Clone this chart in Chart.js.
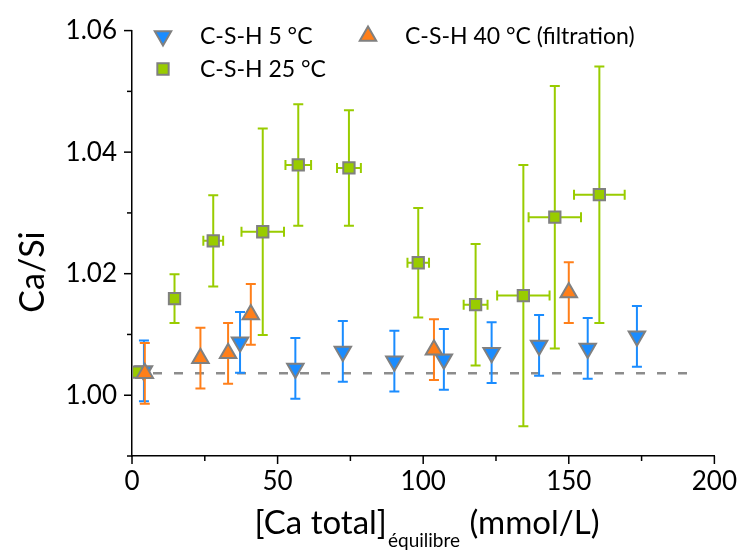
<!DOCTYPE html>
<html>
<head>
<meta charset="utf-8">
<script src="https://cdn.jsdelivr.net/npm/chart.js@4"></script>
<style>
  html, body { margin: 0; padding: 0; background: #fff; }
</style>
</head>
<body>
<canvas id="myChart" width="747" height="550"></canvas>
<script>
const seriesLabels = ['C-S-H 5 °C', 'C-S-H 25 °C', 'C-S-H 40 °C (filtration)'];

// C-S-H 5 °C
const x5 = [4.1, 37.1, 56.1, 72.4, 90.1, 107.1, 123.5, 139.8, 156.5, 173.4];
const y5 = [1.0040, 1.0087, 1.0044, 1.0072, 1.0056, 1.0059, 1.0070, 1.0082, 1.0077, 1.0097];
const yErr5 = [0.005, 0.005, 0.005, 0.005, 0.005, 0.005, 0.005, 0.005, 0.005, 0.005];
const xErr5 = [0, 0, 0, 0, 0, 0, 0, 0, 0, 0];

// C-S-H 25 °C
const x25 = [2.0, 14.6, 27.9, 44.9, 57.1, 74.5, 98.3, 118.0, 134.4, 145.2, 160.5];
const y25 = [1.0038, 1.0159, 1.0254, 1.0269, 1.0379, 1.0374, 1.0218, 1.0149, 1.0164, 1.0293, 1.0330];
const yErr25 = [0, 0.004, 0.0075, 0.017, 0.010, 0.0095, 0.009, 0.010, 0.0215, 0.0216, 0.0211];
const xErr25 = [0, 0, 3.4, 7.3, 4.4, 4.1, 3.7, 4.1, 9.0, 9.0, 8.7];

// C-S-H 40 °C (filtration)
const x40 = [4.4, 23.5, 33.0, 40.8, 103.7, 150.0];
const y40 = [1.0036, 1.0061, 1.0069, 1.0133, 1.0075, 1.0169];
const yErr40 = [0.005, 0.005, 0.005, 0.005, 0.005, 0.005];
const xErr40 = [0, 0, 0, 0, 0, 0];

// dashed reference line
const refX = [0, 194];
const refY = [1.0036, 1.0036];

const xTicks = [0, 50, 100, 150, 200];
const yTicks = [1.00, 1.02, 1.04, 1.06];

const FONT = 'Lato';
const blue = '#1a8cff';
const orange = '#ff7f1a';
const green = '#99cc00';
const edge = '#808080';

function pts(xs, ys) {
  return xs.map((x, i) => ({ x: x, y: ys[i] }));
}

const data = {
  datasets: [
    {
      label: seriesLabels[0],
      data: pts(x5, y5),
      errY: yErr5, errX: xErr5, errColor: blue,
      pointStyle: 'triangle', rotation: 180, pointRadius: 9.5,
      backgroundColor: blue, borderColor: edge, borderWidth: 2,
      order: 3
    },
    {
      label: seriesLabels[1],
      data: pts(x25, y25),
      errY: yErr25, errX: xErr25, errColor: green,
      pointStyle: 'rect', pointRadius: 8,
      backgroundColor: green, borderColor: edge, borderWidth: 2,
      order: 2
    },
    {
      label: seriesLabels[2],
      data: pts(x40, y40),
      errY: yErr40, errX: xErr40, errColor: orange,
      pointStyle: 'triangle', pointRadius: 9.5,
      backgroundColor: orange, borderColor: edge, borderWidth: 2,
      order: 1
    },
    {
      label: 'ref',
      type: 'line',
      data: pts(refX, refY),
      showLine: true, pointRadius: 0,
      borderColor: '#8c8c8c', borderWidth: 2.5, borderDash: [9, 12],
      order: 10
    }
  ]
};

const errorBars = {
  id: 'errorBars',
  beforeDatasetDraw(chart, args) {
    const ds = chart.data.datasets[args.index];
    if (!ds.errY) return;
    const ctx = chart.ctx;
    const xs = chart.scales.x, ys = chart.scales.y;
    ctx.save();
    ctx.strokeStyle = ds.errColor;
    ctx.lineWidth = 2;
    ds.data.forEach((p, j) => {
      const px = xs.getPixelForValue(p.x);
      const py = ys.getPixelForValue(p.y);
      const ey = ds.errY[j], ex = ds.errX[j];
      ctx.beginPath();
      if (ey > 0) {
        const t = ys.getPixelForValue(p.y + ey);
        const b = ys.getPixelForValue(p.y - ey);
        ctx.moveTo(px, t); ctx.lineTo(px, b);
        ctx.moveTo(px - 5, t); ctx.lineTo(px + 5, t);
        ctx.moveTo(px - 5, b); ctx.lineTo(px + 5, b);
      }
      if (ex > 0) {
        const l = xs.getPixelForValue(p.x - ex);
        const r = xs.getPixelForValue(p.x + ex);
        ctx.moveTo(l, py); ctx.lineTo(r, py);
        ctx.moveTo(l, py - 5); ctx.lineTo(l, py + 5);
        ctx.moveTo(r, py - 5); ctx.lineTo(r, py + 5);
      }
      ctx.stroke();
    });
    ctx.restore();
  }
};

const extras = {
  id: 'extras',
  afterDraw(chart) {
    const ctx = chart.ctx;
    ctx.save();
    // tick marks, long for labelled, short for minor
    ctx.strokeStyle = '#000';
    ctx.lineWidth = 1.5;
    const sx = chart.scales.x, sy = chart.scales.y;
    sx.ticks.forEach((t, i) => {
      const p = sx.getPixelForTick(i);
      const len = xTicks.includes(t.value) ? 8 : 5;
      ctx.beginPath(); ctx.moveTo(p, sy.bottom); ctx.lineTo(p, sy.bottom + len); ctx.stroke();
    });
    sy.ticks.forEach((t, i) => {
      const p = sy.getPixelForTick(i);
      const major = yTicks.some(v => Math.abs(v - t.value) < 1e-6);
      const len = major ? 8 : 5;
      ctx.beginPath(); ctx.moveTo(sx.left, p); ctx.lineTo(sx.left - len, p); ctx.stroke();
    });

    // axis titles
    ctx.fillStyle = '#000';
    ctx.textBaseline = 'alphabetic';
    ctx.save();
    ctx.translate(44, 272);
    ctx.rotate(-Math.PI / 2);
    ctx.textAlign = 'center';
    ctx.font = '34px ' + FONT;
    ctx.fillText('Ca/Si', 0, 0);
    ctx.restore();

    const part1 = '[Ca total]', sub = 'équilibre', part2 = ' (mmol/L)';
    ctx.font = '33px ' + FONT;
    const w1 = ctx.measureText(part1).width;
    const w3 = ctx.measureText(part2).width;
    ctx.font = '19px ' + FONT;
    const w2 = ctx.measureText(sub).width;
    let x0 = 426 - (w1 + w2 + w3) / 2;
    ctx.textAlign = 'left';
    ctx.font = '33px ' + FONT;
    ctx.fillText(part1, x0, 534);
    ctx.font = '19px ' + FONT;
    ctx.fillText(sub, x0 + w1 + 1, 547);
    ctx.font = '33px ' + FONT;
    ctx.fillText(part2, x0 + w1 + w2 + 2, 534);

    // legend
    const spots = [[163, 36], [163, 69], [368, 36]];
    ctx.font = '23px ' + FONT;
    ctx.textBaseline = 'middle';
    [0, 1, 2].forEach(i => {
      const ds = chart.data.datasets[i];
      const [lx, ly] = spots[i];
      ctx.fillStyle = ds.backgroundColor;
      ctx.strokeStyle = ds.borderColor;
      ctx.lineWidth = ds.borderWidth;
      Chart.helpers.drawPoint(ctx, {
        pointStyle: ds.pointStyle, radius: ds.pointRadius,
        rotation: ds.rotation || 0, borderWidth: ds.borderWidth
      }, lx, ly);
      ctx.fillStyle = '#000';
      ctx.fillText(ds.label, lx + 37, ly + 1);
    });
    ctx.restore();
  }
};

const config = {
  type: 'scatter',
  data: data,
  options: {
    responsive: false,
    animation: false,
    layout: { padding: { top: 29, right: 27, left: 0, bottom: 0 } },
    plugins: {
      legend: { display: false },
      tooltip: { enabled: false }
    },
    scales: {
      x: {
        type: 'linear',
        min: 0, max: 200,
        afterFit: s => { s.height = 94; },
        border: { display: true, color: '#000', width: 1.5 },
        grid: { display: true, drawOnChartArea: false, drawTicks: false },
        ticks: {
          stepSize: 25,
          padding: 10,
          color: '#000',
          font: { family: FONT, size: 26 },
          maxRotation: 0,
          autoSkip: false,
          callback: v => xTicks.includes(v) ? String(v) : ''
        }
      },
      y: {
        type: 'linear',
        min: 0.99, max: 1.06,
        afterFit: s => { s.width = 132; },
        border: { display: true, color: '#000', width: 1.5 },
        grid: { display: true, drawOnChartArea: false, drawTicks: false },
        ticks: {
          stepSize: 0.01,
          padding: 15,
          color: '#000',
          font: { family: FONT, size: 26 },
          autoSkip: false,
          callback: v => yTicks.some(t => Math.abs(t - v) < 1e-6) ? v.toFixed(2) : ''
        }
      }
    }
  },
  plugins: [errorBars, extras]
};

new Chart(document.getElementById('myChart'), config);
</script>
</body>
</html>
